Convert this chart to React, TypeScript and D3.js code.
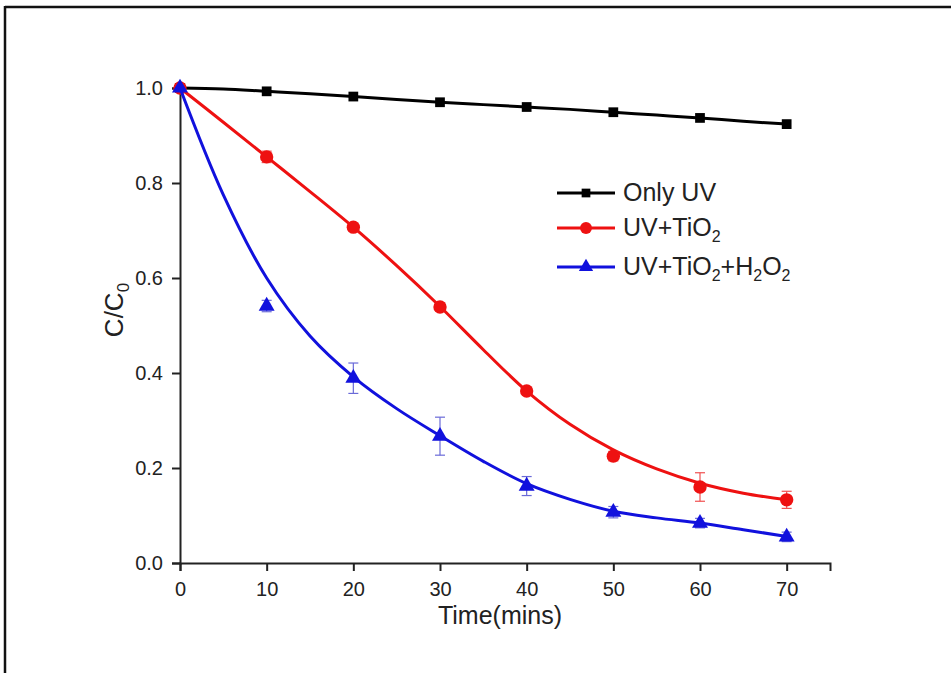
import React, { useEffect, useRef } from "react";
import * as d3 from "d3";

// measured points
const times = [0, 10, 20, 30, 40, 50, 60, 70];
const onlyUV = [1.0, 0.993, 0.982, 0.97, 0.96, 0.949, 0.937, 0.924];
const uvTiO2 = [1.0, 0.855, 0.707, 0.539, 0.362, 0.225, 0.16, 0.133];
const uvTiO2Err = [0, 0.012, 0.008, 0.008, 0.005, 0.01, 0.03, 0.018];
const uvTiO2H2O2 = [1.0, 0.541, 0.389, 0.267, 0.162, 0.107, 0.084, 0.055];
const uvTiO2H2O2Err = [0, 0.012, 0.032, 0.04, 0.02, 0.012, 0.01, 0.01];

// fitted curves
const fitTimes = [0, 5, 10, 15, 20, 25, 30, 35, 40, 45, 50, 55, 60, 65, 70];
const fitOnlyUV = [1.0, 0.998, 0.993, 0.988, 0.982, 0.976, 0.97, 0.965, 0.96, 0.955, 0.949, 0.943, 0.937, 0.93, 0.924];
const fitUvTiO2 = [1.0, 0.928, 0.855, 0.782, 0.707, 0.626, 0.54, 0.449, 0.362, 0.292, 0.238, 0.198, 0.168, 0.147, 0.133];
const fitUvTiO2H2O2 = [1.0, 0.775, 0.6, 0.478, 0.392, 0.325, 0.268, 0.214, 0.167, 0.134, 0.109, 0.095, 0.084, 0.07, 0.056];

const xTicks = [0, 10, 20, 30, 40, 50, 60, 70];
const yTicks = [0, 0.2, 0.4, 0.6, 0.8, 1.0];

const FONT = "'Liberation Sans', Arial, sans-serif";

const App = () => {
   const svgRef = useRef(null);

   useEffect(() => {
      const svg = d3.select(svgRef.current);
      svg.selectAll("*").remove();

      const left = 180;
      const right = 830;
      const top = 88;
      const bottom = 563;

      const x = d3.scaleLinear().domain([0, 75]).range([left, right]);
      const y = d3.scaleLinear().domain([0, 1]).range([bottom, top]);

      // outer frame (only top and left edges show)
      svg.append("line").attr("x1", 5).attr("x2", 951).attr("y1", 7).attr("y2", 7)
         .attr("stroke", "#111").attr("stroke-width", 2.5);
      svg.append("line").attr("x1", 5).attr("x2", 5).attr("y1", 6).attr("y2", 673)
         .attr("stroke", "#111").attr("stroke-width", 2.5);

      // axes
      const xAxis = svg.append("g").attr("transform", `translate(0,${bottom})`);
      xAxis.call(d3.axisBottom(x).tickValues(d3.range(5, 80, 10)).tickSize(5).tickFormat(() => ""));
      xAxis.call(d3.axisBottom(x).tickValues(xTicks).tickSize(8).tickPadding(11).tickFormat(d3.format("d")));
      const yAxis = svg.append("g").attr("transform", `translate(${left},0)`);
      yAxis.call(d3.axisLeft(y).tickValues(d3.range(0.1, 1, 0.2)).tickSize(5).tickFormat(() => ""));
      yAxis.call(d3.axisLeft(y).tickValues(yTicks).tickSize(8).tickPadding(9).tickFormat(d3.format(".1f")));
      svg.selectAll(".domain").attr("stroke", "#222").attr("stroke-width", 2);
      svg.selectAll(".tick line").attr("stroke", "#222").attr("stroke-width", 2);
      svg.selectAll(".tick text").attr("font-family", FONT).attr("font-size", 20).attr("fill", "#222");

      // axis titles
      svg.append("text").attr("x", 500).attr("y", 624).attr("text-anchor", "middle")
         .attr("font-family", FONT).attr("font-size", 25).attr("fill", "#222").text("Time(mins)");
      const yt = svg.append("text").attr("transform", "translate(123,310) rotate(-90)")
         .attr("text-anchor", "middle").attr("font-family", FONT).attr("font-size", 26).attr("fill", "#222");
      yt.append("tspan").text("C/C");
      yt.append("tspan").attr("font-size", 17).attr("dy", 6).text("0");

      const line = d3.line().x((d) => x(d[0])).y((d) => y(d[1])).curve(d3.curveCatmullRom.alpha(0.5));

      const series = [
         { name: "Only UV", fit: fitOnlyUV, vals: onlyUV, err: null, color: "#000", errColor: "#000", shape: d3.symbolSquare, size: 95 },
         { name: "UV+TiO2", fit: fitUvTiO2, vals: uvTiO2, err: uvTiO2Err, color: "#ee1111", errColor: "#f05050", shape: d3.symbolCircle, size: 140 },
         { name: "UV+TiO2+H2O2", fit: fitUvTiO2H2O2, vals: uvTiO2H2O2, err: uvTiO2H2O2Err, color: "#1111dd", errColor: "#6a6ad8", shape: d3.symbolTriangle, size: 110 },
      ];

      series.forEach((s) => {
         const g = svg.append("g");
         g.append("path")
            .datum(fitTimes.map((t, i) => [t, s.fit[i]]))
            .attr("d", line)
            .attr("fill", "none")
            .attr("stroke", s.color)
            .attr("stroke-width", 3);

         if (s.err) {
            times.forEach((t, i) => {
               if (!s.err[i]) return;
               const cx = x(t);
               const y1 = y(s.vals[i] + s.err[i]);
               const y2 = y(s.vals[i] - s.err[i]);
               g.append("line").attr("x1", cx).attr("x2", cx).attr("y1", y1).attr("y2", y2)
                  .attr("stroke", s.errColor).attr("stroke-width", 1.2);
               [y1, y2].forEach((yy) => {
                  g.append("line").attr("x1", cx - 5).attr("x2", cx + 5).attr("y1", yy).attr("y2", yy)
                     .attr("stroke", s.errColor).attr("stroke-width", 1.2);
               });
            });
         }

         g.selectAll("path.pt")
            .data(times.map((t, i) => [t, s.vals[i]]))
            .enter()
            .append("path")
            .attr("class", "pt")
            .attr("d", d3.symbol().type(s.shape).size(s.size))
            .attr("transform", (d) => `translate(${x(d[0])},${y(d[1])})`)
            .attr("fill", s.color);
      });

      // legend
      const legY = [193, 228, 267];
      series.forEach((s, i) => {
         const lg = svg.append("g").attr("transform", `translate(0,${legY[i]})`);
         lg.append("line").attr("x1", 557).attr("x2", 615).attr("y1", 0).attr("y2", 0)
            .attr("stroke", s.color).attr("stroke-width", 3);
         lg.append("path").attr("d", d3.symbol().type(s.shape).size(s.size * 0.8))
            .attr("transform", "translate(586,0)").attr("fill", s.color);
         const t = lg.append("text").attr("x", 623).attr("y", 8).attr("font-family", FONT)
            .attr("font-size", 25).attr("fill", "#222");
         if (i === 0) t.text("Only UV");
         else {
            t.append("tspan").text("UV+TiO");
            t.append("tspan").attr("font-size", 16).attr("dy", 6).text("2");
            if (i === 2) {
               t.append("tspan").attr("dy", -6).text("+H");
               t.append("tspan").attr("font-size", 16).attr("dy", 6).text("2");
               t.append("tspan").attr("dy", -6).text("O");
               t.append("tspan").attr("font-size", 16).attr("dy", 6).text("2");
            }
         }
      });
   }, []);

   return (
      <svg
         ref={svgRef}
         width={951}
         height={673}
         style={{ position: "absolute", left: 0, top: 0, background: "#fff" }}
      ></svg>
   );
};

export default App;
